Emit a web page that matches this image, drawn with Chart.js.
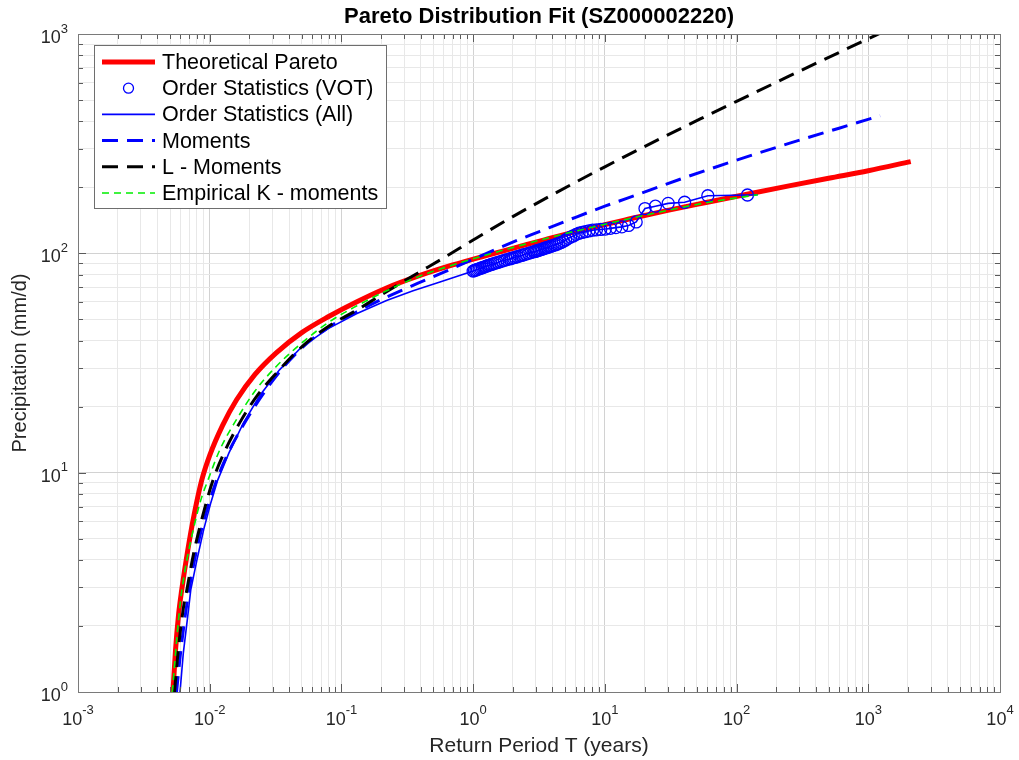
<!DOCTYPE html>
<html>
<head>
<meta charset="utf-8">
<title>Pareto Distribution Fit</title>
<script src="https://cdn.jsdelivr.net/npm/chart.js@4.4.1/dist/chart.umd.min.js"></script>
<style>
  html, body { margin: 0; padding: 0; background: #fff; }
</style>
</head>
<body>
<canvas id="paretoChart" width="1019" height="760"></canvas>
<script>
// ---- data: return period T (years) vs precipitation (mm/d) ----
const paretoT = [0.00526, 0.0055, 0.0058, 0.00613, 0.0068, 0.0076, 0.0087, 0.01, 0.0125, 0.016, 0.022, 0.032, 0.05, 0.08, 0.13, 0.22, 0.4, 0.7, 1.2, 2.2, 4, 8, 15, 30, 60, 120, 250, 500, 1000, 2100];
const paretoP = [1.0, 1.55, 2.25, 2.92, 4.4, 6.4, 9.25, 12, 16.4, 21.5, 28, 35.2, 43.5, 51.5, 60, 69.5, 79.5, 88.5, 97, 107, 118, 131, 143, 157, 171, 186, 203, 220, 238, 262];

const votT = [1.000, 1.025, 1.052, 1.080, 1.110, 1.142, 1.175, 1.210, 1.247, 1.287, 1.330, 1.375, 1.424, 1.476, 1.532, 1.592, 1.658, 1.729, 1.806, 1.891, 1.952, 2.017, 2.086, 2.161, 2.241, 2.327, 2.420, 2.521, 2.630, 2.750, 2.881, 2.951, 3.025, 3.103, 3.184, 3.270, 3.361, 3.457, 3.559, 3.667, 3.781, 3.903, 4.033, 4.172, 4.321, 4.481, 4.654, 4.840, 5.042, 5.261, 5.500, 5.762, 6.050, 6.368, 6.722, 7.118, 7.563, 8.067, 8.643, 9.308, 10.08, 11.00, 12.10, 13.44, 15.13, 17.29, 20.17, 24.20, 30.25, 40.33, 60.50, 121.0];
const votP = [83, 83.5, 84, 84.5, 85, 85.5, 86, 86.6, 87.2, 87.8, 88.4, 89, 89.6, 90.2, 90.8, 91.5, 92.2, 92.9, 93.6, 94.3, 94.8, 95.3, 95.9, 96.5, 97.1, 97.8, 98.5, 99.2, 100, 100.8, 101.6, 102, 102.5, 103, 103.5, 104, 104.6, 105.2, 105.8, 106.4, 107, 107.7, 108.4, 109.2, 110, 111, 112, 113.5, 115, 117, 118.5, 120, 122, 123.5, 124.5, 125.5, 126.5, 127.5, 128, 128.5, 129, 130, 131, 132, 134, 139, 160, 164, 169, 171, 183, 184.5];

const allLowT = [0.00595, 0.0063, 0.0068, 0.00718, 0.008, 0.009, 0.0102, 0.0115, 0.014, 0.018, 0.024, 0.034, 0.05, 0.08, 0.13, 0.22, 0.35, 0.56, 0.8];
const allLowP = [1, 1.5, 2.2, 2.92, 4, 5.5, 7.3, 9.25, 12.3, 16.8, 22.5, 29.5, 37.5, 45.5, 53, 61, 67.5, 74, 79.5];
const allTailT = [145];
const allTailP = [185];

const momT = [0.0056, 0.006, 0.0065, 0.00697, 0.0078, 0.009, 0.0113, 0.014, 0.018, 0.025, 0.035, 0.05, 0.08, 0.13, 0.2, 0.35, 0.6, 1, 2, 3.22, 6, 10, 18.5, 40, 100, 250, 600, 1230];
const momP = [1, 1.5, 2.2, 2.92, 4.2, 6.0, 9.25, 12.5, 16.5, 22.5, 29.5, 37, 46, 54, 61.5, 71.5, 82, 94, 112.5, 126, 146, 164, 187, 221, 266, 317, 372, 424];

const lmomT = [0.0054, 0.0058, 0.0063, 0.0067, 0.0075, 0.0085, 0.0106, 0.013, 0.017, 0.023, 0.033, 0.05, 0.08, 0.13, 0.2, 0.35, 0.6, 1, 2, 4, 10, 25, 53, 100, 250, 600, 1300];
const lmomP = [1, 1.6, 2.4, 2.92, 4.2, 5.8, 9.25, 12.5, 17, 22.5, 29, 37.5, 46.5, 55, 64.5, 79, 95.5, 115, 147, 185, 248, 328, 410, 493, 642, 824, 1024];

const kmomT = [0.0052, 0.0056, 0.006, 0.0066, 0.0074, 0.0085, 0.0097, 0.012, 0.016, 0.022, 0.032, 0.05, 0.08, 0.13, 0.22, 0.4, 0.7, 1.2, 2.2, 4, 8, 15, 30, 60, 145];
const kmomP = [1, 1.7, 2.6, 3.8, 5.3, 7.4, 9.25, 12.8, 17.5, 23.5, 30.5, 39, 48.5, 57.5, 67.5, 79, 88.5, 97.5, 108, 119, 131.5, 143.5, 157, 170.5, 185];

// axis decades and the exponents printed under them
const xDecades = [1e-3, 1e-2, 1e-1, 1e0, 1e1, 1e2, 1e3, 1e4];
const xExponents = ['-3', '-2', '-1', '0', '1', '2', '3', '4'];
const yDecades = [1, 10, 100, 1000];
const yExponents = ['0', '1', '2', '3'];

const FONT = '"Liberation Sans", Arial, Helvetica, sans-serif';

function pairs(xs, ys) {
  return xs.map((x, i) => ({ x: x, y: ys[i] }));
}

// 1..9 ticks in every decade, decade ticks flagged as major
function logTicks(decades) {
  const out = [];
  decades.forEach((d, i) => {
    out.push({ value: d, major: true });
    if (i < decades.length - 1) {
      for (let k = 2; k <= 9; k++) out.push({ value: d * k, major: false });
    }
  });
  return out;
}

const gridColor = ctx => (ctx.tick && ctx.tick.major ? '#d2d2d2' : '#e8e8e8');

// tick marks, box, tick labels, titles and legend, MATLAB style
const axesDecor = {
  id: 'axesDecor',
  afterDraw(chart) {
    const { ctx, chartArea: a, scales } = chart;
    const xs = scales.x, ys = scales.y;
    ctx.save();

    // inward ticks on all four sides
    ctx.strokeStyle = '#5a5a5a';
    ctx.lineWidth = 1;
    ctx.beginPath();
    xs.ticks.forEach(t => {
      const px = Math.round(xs.getPixelForValue(t.value)) + 0.5;
      const len = t.major ? 8 : 5;
      ctx.moveTo(px, a.bottom); ctx.lineTo(px, a.bottom - len);
      ctx.moveTo(px, a.top); ctx.lineTo(px, a.top + len);
    });
    ys.ticks.forEach(t => {
      const py = Math.round(ys.getPixelForValue(t.value)) + 0.5;
      const len = t.major ? 8 : 5;
      ctx.moveTo(a.left, py); ctx.lineTo(a.left + len, py);
      ctx.moveTo(a.right, py); ctx.lineTo(a.right - len, py);
    });
    ctx.stroke();

    ctx.strokeStyle = '#7a7a7a';
    ctx.strokeRect(Math.round(a.left) + 0.5, Math.round(a.top) + 0.5,
      Math.round(a.right - a.left), Math.round(a.bottom - a.top));

    // power-of-ten labels
    const baseFont = '18px ' + FONT;
    const expFont = '13px ' + FONT;
    ctx.fillStyle = '#262626';
    ctx.textBaseline = 'middle';
    ctx.textAlign = 'left';
    xDecades.forEach((d, i) => {
      const px = xs.getPixelForValue(d);
      ctx.font = baseFont;
      const wb = ctx.measureText('10').width;
      ctx.font = expFont;
      const we = ctx.measureText(xExponents[i]).width;
      const x0 = px - (wb + we) / 2;
      ctx.font = baseFont;
      ctx.fillText('10', x0, a.bottom + 28);
      ctx.font = expFont;
      ctx.fillText(xExponents[i], x0 + wb, a.bottom + 18);
    });
    yDecades.forEach((d, i) => {
      const py = ys.getPixelForValue(d);
      ctx.font = expFont;
      const we = ctx.measureText(yExponents[i]).width;
      const xr = a.left - 10;
      ctx.fillText(yExponents[i], xr - we, py - 5);
      ctx.font = baseFont;
      const wb = ctx.measureText('10').width;
      ctx.fillText('10', xr - we - wb, py + 4);
    });

    // titles
    ctx.textAlign = 'center';
    ctx.font = 'bold 22px ' + FONT;
    ctx.fillStyle = '#000';
    ctx.fillText('Pareto Distribution Fit (SZ000002220)', (a.left + a.right) / 2, 17);
    ctx.font = '21px ' + FONT;
    ctx.fillStyle = '#262626';
    ctx.fillText('Return Period T (years)', (a.left + a.right) / 2, a.bottom + 54);
    ctx.save();
    ctx.font = '20px ' + FONT;
    ctx.translate(20, (a.top + a.bottom) / 2);
    ctx.rotate(-Math.PI / 2);
    ctx.fillText('Precipitation (mm/d)', 0, 0);
    ctx.restore();

    // legend box in the upper-left corner
    const lx = a.left + 16, ly = a.top + 11, lw = 292, lh = 163;
    ctx.fillStyle = '#fff';
    ctx.fillRect(lx, ly, lw, lh);
    ctx.strokeStyle = '#6e6e6e';
    ctx.lineWidth = 1;
    ctx.strokeRect(lx + 0.5, ly + 0.5, lw, lh);
    ctx.font = '21.5px ' + FONT;
    ctx.textAlign = 'left';
    chart.data.datasets.forEach((ds, i) => {
      const y = ly + 17 + i * 26.2;
      const x1 = lx + 8, x2 = lx + 61;
      ctx.strokeStyle = ds.borderColor;
      ctx.lineWidth = ds.borderWidth;
      if (ds.showLine === false) {
        ctx.setLineDash([]);
        ctx.beginPath();
        ctx.arc((x1 + x2) / 2, y, ds.pointRadius - 1, 0, Math.PI * 2);
        ctx.stroke();
      } else {
        ctx.setLineDash(ds.borderDash || []);
        ctx.beginPath();
        ctx.moveTo(x1, y);
        ctx.lineTo(x2, y);
        ctx.stroke();
      }
      ctx.setLineDash([]);
      ctx.fillStyle = '#000';
      ctx.fillText(ds.label, lx + 68, y + 1);
    });

    ctx.restore();
  }
};

new Chart(document.getElementById('paretoChart'), {
  type: 'line',
  data: {
    datasets: [
      {
        label: 'Theoretical Pareto',
        data: pairs(paretoT, paretoP),
        borderColor: '#ff0000',
        borderWidth: 5,
        cubicInterpolationMode: 'monotone',
        order: 6
      },
      {
        label: 'Order Statistics (VOT)',
        data: pairs(votT, votP),
        showLine: false,
        borderColor: '#0000ff',
        backgroundColor: 'rgba(0,0,0,0)',
        borderWidth: 1.3,
        pointRadius: 6,
        pointStyle: 'circle',
        order: 5
      },
      {
        label: 'Order Statistics (All)',
        data: pairs(allLowT.concat(votT, allTailT), allLowP.concat(votP, allTailP)),
        borderColor: '#0000ff',
        borderWidth: 1.6,
        order: 4
      },
      {
        label: 'Moments',
        data: pairs(momT, momP),
        borderColor: '#0000ff',
        borderWidth: 3,
        borderDash: [16, 9],
        cubicInterpolationMode: 'monotone',
        order: 3
      },
      {
        label: 'L - Moments',
        data: pairs(lmomT, lmomP),
        borderColor: '#000000',
        borderWidth: 3,
        borderDash: [16, 9],
        cubicInterpolationMode: 'monotone',
        order: 2
      },
      {
        label: 'Empirical K - moments',
        data: pairs(kmomT, kmomP),
        borderColor: '#00ee00',
        borderWidth: 1.6,
        borderDash: [7, 5],
        cubicInterpolationMode: 'monotone',
        order: 1
      }
    ]
  },
  options: {
    responsive: false,
    animation: false,
    events: [],
    layout: { padding: { left: 78, top: 34, right: 19, bottom: 68 } },
    elements: { point: { radius: 0, hoverRadius: 0 } },
    plugins: {
      legend: { display: false },
      tooltip: { enabled: false },
      title: { display: false }
    },
    scales: {
      x: {
        type: 'logarithmic',
        min: 1e-3,
        max: 1e4,
        afterBuildTicks: s => { s.ticks = logTicks(xDecades); },
        afterFit: s => { s.height = 0; },
        ticks: { display: false },
        grid: { color: gridColor, lineWidth: 1, drawTicks: false },
        border: { display: false }
      },
      y: {
        type: 'logarithmic',
        min: 1,
        max: 1000,
        afterBuildTicks: s => { s.ticks = logTicks(yDecades); },
        afterFit: s => { s.width = 0; },
        ticks: { display: false },
        grid: { color: gridColor, lineWidth: 1, drawTicks: false },
        border: { display: false }
      }
    }
  },
  plugins: [axesDecor]
});
</script>
</body>
</html>
